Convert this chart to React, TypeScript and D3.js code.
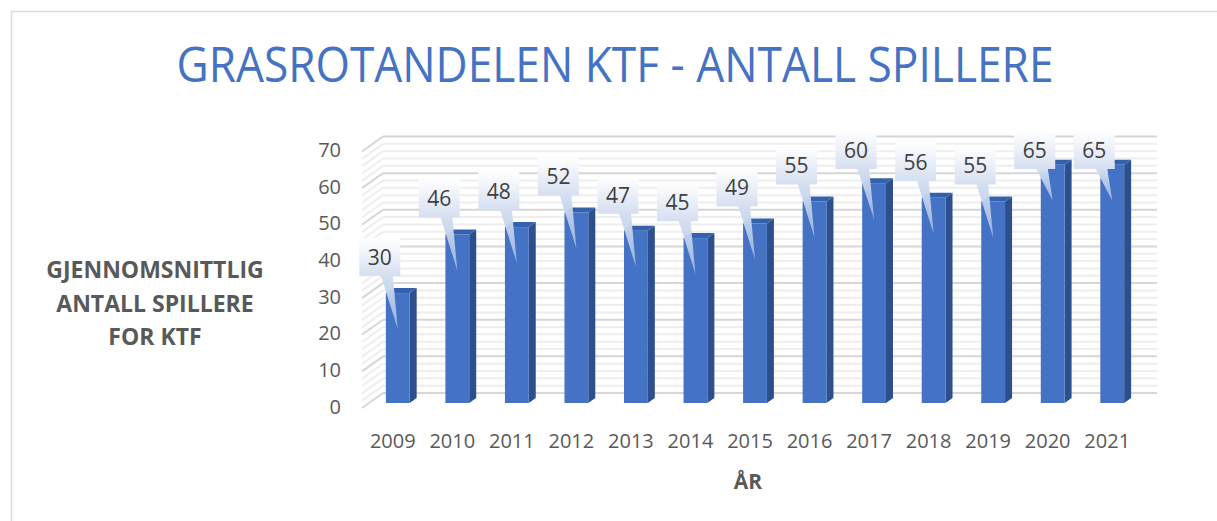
import React from "react";
import * as d3 from "d3";

// data
const years = ["2009", "2010", "2011", "2012", "2013", "2014", "2015", "2016", "2017", "2018", "2019", "2020", "2021"];
const players = [30, 46, 48, 52, 47, 45, 49, 55, 60, 56, 55, 65, 65];
const yTicks = [0, 10, 20, 30, 40, 50, 60, 70];
const minorTicks = d3.range(0, 71, 2);

const titleText = "GRASROTANDELEN KTF - ANTALL SPILLERE";
const yTitleLines = ["GJENNOMSNITTLIG", "ANTALL SPILLERE", "FOR KTF"];
const xTitle = "ÅR";

const W = 1217;
const H = 521;
const FONT = "'Open Sans', 'Liberation Sans', sans-serif";

// 3d offsets: back wall and front edge relative to the bar plane
const BACK = { dx: 15, dy: -10 };
const FRONT = { dx: -6, dy: 5 };
const DEPTH = { dx: 7, dy: -5 };

const App = () => {
  const x = d3.scaleBand<string>().domain(years).range([368, 1142]);
  const y = d3.scaleLinear().domain([0, 70]).range([403, 146.5]);
  const bw = x.bandwidth() * 0.4;
  const cx = (d: string) => (x(d) ?? 0) + x.bandwidth() / 2;
  const [x0, x1] = x.range();

  return (
    <svg width={W} height={H} style={{ position: "absolute", left: 0, top: 0 }} fontFamily={FONT}>
      <defs>
        <linearGradient id="boxGrad" x1="0" y1="0" x2="0" y2="1">
          <stop offset="0%" stopColor="#ffffff" />
          <stop offset="100%" stopColor="#d5dff1" />
        </linearGradient>
        <linearGradient id="tipGrad" x1="0" y1="0" x2="0" y2="1">
          <stop offset="0%" stopColor="#d5dff1" />
          <stop offset="100%" stopColor="#a3bbe4" stopOpacity={0.85} />
        </linearGradient>
      </defs>
      <rect x={0} y={0} width={W} height={H} fill="#ffffff" />
      <rect x={11.5} y={11.5} width={W + 20} height={H + 20} fill="none" stroke="#d9d9d9" strokeWidth={1.5} />

      <text x={615} y={82} textAnchor="middle" fontSize={49} fill="#4472C4" textLength={877} lengthAdjust="spacingAndGlyphs">
        {titleText}
      </text>

      {/* gridlines: back wall + side wall */}
      <g>
        {minorTicks.map((t) => {
          const major = t % 10 === 0;
          const c = major ? "#d6d6d6" : "#eeeeee";
          const yb = y(t) + BACK.dy;
          const yf = y(t) + FRONT.dy;
          return (
            <g key={t} stroke={c} strokeWidth={2}>
              <line x1={x0 + BACK.dx} x2={x1 + BACK.dx} y1={yb} y2={yb} />
              <line x1={x0 + FRONT.dx} x2={x0 + BACK.dx} y1={yf} y2={yb} />
            </g>
          );
        })}
      </g>

      {/* y tick labels */}
      {yTicks.map((t) => (
        <text key={t} x={341} y={y(t) + 3} textAnchor="end" dominantBaseline="central" fontSize={20} fill="#595959">
          {t}
        </text>
      ))}

      {/* bars */}
      {years.map((d, i) => {
        const c = cx(d);
        const l = c - bw / 2;
        const r = c + bw / 2;
        const top = y(players[i]);
        const bot = y(0);
        return (
          <g key={d}>
            <polygon
              points={`${r},${top} ${r + DEPTH.dx},${top + DEPTH.dy} ${r + DEPTH.dx},${bot + DEPTH.dy} ${r},${bot}`}
              fill="#2D4F8E"
            />
            <polygon
              points={`${l},${top} ${l + DEPTH.dx},${top + DEPTH.dy} ${r + DEPTH.dx},${top + DEPTH.dy} ${r},${top}`}
              fill="#3461AD"
            />
            <rect x={l} y={top} width={bw} height={bot - top} fill="#4472C4" />
          </g>
        );
      })}

      {/* callouts */}
      {years.map((d, i) => {
        const c = cx(d);
        const top = y(players[i]);
        const tx = c - 18;
        const ty = Math.max(top - 36, 150);
        const bx = tx - 20.5;
        const by = ty - 19;
        const bh = 38;
        return (
          <g key={d}>
            <polygon points={`${tx + 1},${by + bh - 1} ${tx + 13},${by + bh - 1} ${c},${top + 36}`} fill="url(#tipGrad)" />
            <rect x={bx} y={by} width={41} height={bh} fill="url(#boxGrad)" />
            <text x={tx} y={ty} textAnchor="middle" dominantBaseline="central" fontSize={21} fill="#404040">
              {players[i]}
            </text>
          </g>
        );
      })}

      {/* x tick labels */}
      {years.map((d) => (
        <text key={d} x={cx(d) - 5} y={440} textAnchor="middle" dominantBaseline="central" fontSize={20} fill="#595959">
          {d}
        </text>
      ))}

      <text x={748} y={481} textAnchor="middle" dominantBaseline="central" fontSize={21} fontWeight={700} fill="#595959">
        {xTitle}
      </text>

      {yTitleLines.map((s, i) => (
        <text key={s} x={155} y={278 + i * 33.5} textAnchor="middle" fontSize={23} fontWeight={700} fill="#595959">
          {s}
        </text>
      ))}
    </svg>
  );
};

export default App;
